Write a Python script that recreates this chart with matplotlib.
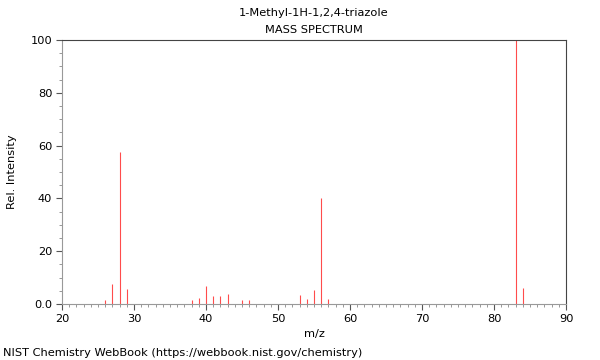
import matplotlib
matplotlib.use("Agg")
import matplotlib.pyplot as plt
from matplotlib.ticker import MultipleLocator, FuncFormatter

mz = [26, 27, 28, 29, 38, 39, 40, 41, 42, 43, 45, 46, 53, 54, 55, 56, 57, 83, 84]
intensity = [1.5, 7.6, 57.5, 5.7, 1.5, 2.3, 6.8, 3.2, 3.2, 3.8, 1.6, 1.6, 3.3, 1.8, 5.3, 40.0, 1.8, 100.0, 6.2]

title = "1-Methyl-1H-1,2,4-triazole"
subtitle = "MASS SPECTRUM"
footer = "NIST Chemistry WebBook (https://webbook.nist.gov/chemistry)"

plt.rcParams['font.family'] = ['DejaVu Sans']
fig = plt.figure(figsize=(6, 3.6), dpi=100)
ax = fig.add_axes([62/600, 56/360, 504/600, 264/360])

ax.vlines(mz, 0, intensity, colors='#ff0000', linewidth=0.8, alpha=0.7)
ax.set_xlim(20, 90)
ax.set_ylim(0, 100)
ax.xaxis.set_major_locator(MultipleLocator(10))
ax.xaxis.set_minor_locator(MultipleLocator(1))
ax.yaxis.set_major_locator(MultipleLocator(20))
ax.yaxis.set_minor_locator(MultipleLocator(5))
ax.yaxis.set_major_formatter(FuncFormatter(lambda v, p: "0.0" if v == 0 else f"{int(v)}"))
ax.tick_params(axis='both', which='major', length=4, width=0.8, color='#555555', labelsize=8.2, pad=3)
ax.tick_params(axis='both', which='minor', length=2, width=0.6, color='#888888')
for s in ax.spines.values():
    s.set_color('#444444')
    s.set_linewidth(0.8)
ax.spines['left'].set_color('#999999')
ax.spines['bottom'].set_color('#999999')
ax.set_xlabel("m/z", fontsize=8.2, labelpad=4)
ax.set_ylabel("Rel. Intensity", fontsize=8.2, labelpad=10)

fig.text(314/600, 1 - 13/360, title, ha='center', va='center', fontsize=8.2)
fig.text(314/600, 1 - 30/360, subtitle, ha='center', va='center', fontsize=8.2)
fig.text(3/600, 1 - 353/360, footer, ha='left', va='center', fontsize=8.2)

fig.savefig("out.png", dpi=100)
